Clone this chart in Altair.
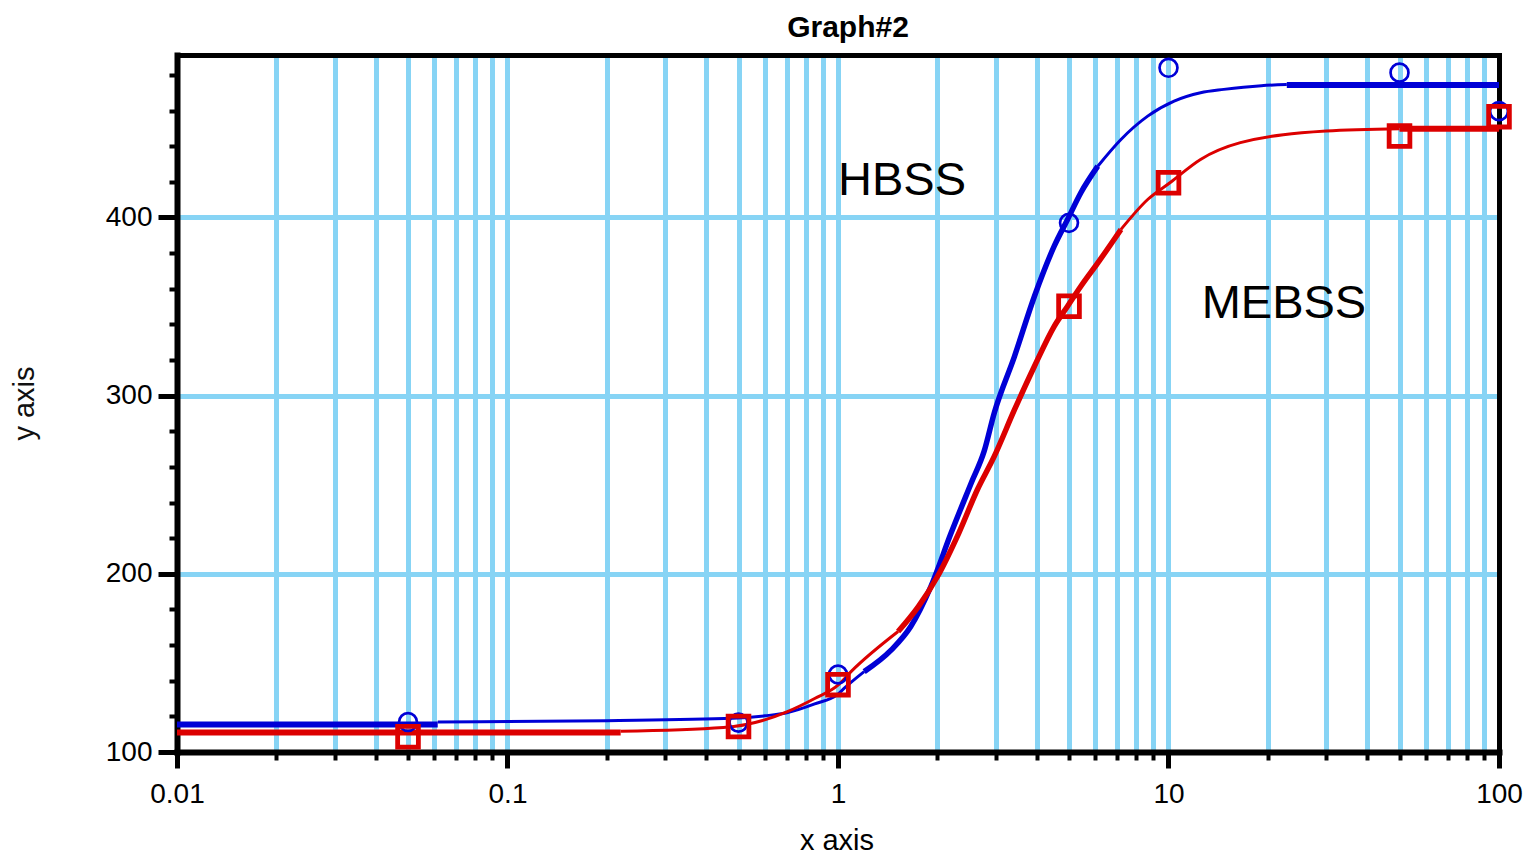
import altair as alt
import pandas as pd

FONT = "Liberation Sans"
BLUE = "#0000D6"
RED = "#DC0000"
GRID = "#87D4F5"

# ---- tick values ----
x_major = [0.01, 0.1, 1, 10, 100]
x_minor = [round(m * d, 4) for d in [0.01, 0.1, 1, 10] for m in range(2, 10)]
x_grid = [v for v in sorted(x_minor + x_major) if 0.01 < v < 100]
y_major = [100, 200, 300, 400]
y_minor = [v for v in range(120, 500, 20) if v not in y_major]
y_grid = [200, 300, 400]

# ---- measured points ----
hbss_x = [0.05, 0.5, 1, 5, 10, 50, 100]
hbss_y = [116.8, 116.5, 143.5, 397.0, 484.0, 481.3, 459.7]
mebss_x = [0.05, 0.5, 1, 5, 10, 50, 100]
mebss_y = [108.6, 114.3, 137.8, 350.2, 419.5, 445.7, 456.6]

# ---- fitted curves (in pieces) ----
hbss_fit_x = [0.01, 0.0615,
              0.0615, 0.2, 0.48, 0.6, 0.7, 0.85, 1.0, 1.045, 1.2,
              1.2, 1.45, 1.66, 1.91, 2.2, 2.53, 2.77, 2.97, 3.42, 3.93, 4.51, 4.95, 5.43, 6.11,
              6.11, 7.18, 8.65, 10.4, 12.5, 14.7, 19.1, 22.8,
              22.8, 100]
hbss_fit_y = [115.4, 115.4,
              116.8, 117.6, 118.9, 120.3, 122.0, 127.0, 132.5, 135.8, 145.1,
              145.1, 157.3, 170.4, 192.9, 223.0, 251.0, 269.0, 290.3, 322.1, 355.8, 383.9, 398.9, 413.9, 428.8,
              428.8, 443.8, 456.9, 465.3, 470.0, 471.9, 474.0, 474.6,
              474.3, 474.3]
hbss_fit_piece = [0, 0,
                  1, 1, 1, 1, 1, 1, 1, 1, 1,
                  2, 2, 2, 2, 2, 2, 2, 2, 2, 2, 2, 2, 2, 2,
                  3, 3, 3, 3, 3, 3, 3, 3,
                  4, 4]

mebss_fit_x = [0.01, 0.22,
               0.22, 0.45, 0.6, 0.7, 0.85, 1.0, 1.095, 1.52,
               1.52, 1.75, 2.0, 2.32, 2.64, 2.97, 3.42, 3.93, 4.51, 4.95, 5.43, 6.11, 7.18,
               7.18, 8.65, 10.1, 12.5, 16.5, 30, 50,
               50, 100]
mebss_fit_y = [110.9, 110.9,
               111.6, 113.7, 118.0, 122.5, 130.0, 137.5, 145.1, 167.6,
               167.6, 181.6, 198.5, 222.9, 247.2, 265.9, 292.1, 316.5, 338.9, 350.2, 361.4, 374.5, 393.3,
               393.3, 410.1, 419.5, 432.6, 442.0, 448.5, 449.8,
               449.8, 449.8]
mebss_fit_piece = [0, 0,
                   1, 1, 1, 1, 1, 1, 1, 1,
                   2, 2, 2, 2, 2, 2, 2, 2, 2, 2, 2, 2, 2,
                   3, 3, 3, 3, 3, 3, 3,
                   4, 4]

# ---- annotations ----
label_text = ["HBSS", "MEBSS"]
label_x = [1.0, 12.6]
label_y = [412.9, 343.8]

# line width used for each traced piece (style)
PIECE_WIDTH = {0: 6, 1: 3, 2: 5.5, 3: 3, 4: 6}

curve_rows = []
for name, xs, ys, ps in [("HBSS", hbss_fit_x, hbss_fit_y, hbss_fit_piece),
                         ("MEBSS", mebss_fit_x, mebss_fit_y, mebss_fit_piece)]:
    for i, (xv, yv, pv) in enumerate(zip(xs, ys, ps)):
        curve_rows.append({"series": name, "x": xv, "y": yv, "piece": pv,
                           "w": PIECE_WIDTH[pv], "i": i})
curves = pd.DataFrame(curve_rows)
hbss = pd.DataFrame({"x": hbss_x, "y": hbss_y})
mebss = pd.DataFrame({"x": mebss_x, "y": mebss_y})
labels = pd.DataFrame({"x": label_x, "y": label_y, "text": label_text})

XS = alt.Scale(type="log", domain=[0.01, 100], nice=False)
YS = alt.Scale(domain=[100, 491.2], nice=False, zero=False)

grid_x = alt.Axis(orient="bottom", values=x_grid, grid=True, gridColor=GRID, gridWidth=5,
                  gridOpacity=1, domain=False, ticks=False, labels=False)
grid_y = alt.Axis(orient="left", values=y_grid, grid=True, gridColor=GRID, gridWidth=5,
                  gridOpacity=1, domain=False, ticks=False, labels=False)
minor_x = alt.Axis(orient="bottom", values=x_minor, grid=False, domain=False, ticks=True,
                   tickSize=8, tickWidth=4, tickColor="black", labels=False)
minor_y = alt.Axis(orient="left", values=y_minor, grid=False, domain=False, ticks=True,
                   tickSize=8, tickWidth=4, tickColor="black", labels=False)
major_x = alt.Axis(orient="bottom", values=x_major, grid=False, domain=True, domainColor="black",
                   domainWidth=6, domainCap="square", ticks=True, tickSize=16, tickWidth=5,
                   tickColor="black", labels=True, labelFont=FONT, labelFontSize=28,
                   labelColor="black", labelPadding=12, labelFlush=False, labelOverlap=False,
                   format="~g", titleFont=FONT, titleFontSize=29, titleFontWeight="normal",
                   titleColor="black", titleX=659.5, titleY=97, titleBaseline="alphabetic",
                   titleAlign="center")
major_y = alt.Axis(orient="left", values=y_major, grid=False, domain=True, domainColor="black",
                   domainWidth=6, domainCap="square", ticks=True, tickSize=19, tickWidth=5,
                   tickColor="black", labels=True, labelFont=FONT, labelFontSize=28,
                   labelColor="black", labelPadding=6, format="d", titleFont=FONT,
                   titleFontSize=29, titleFontWeight="normal", titleColor="#111111",
                   titleX=-144, titleY=348, titleBaseline="alphabetic", titleAlign="center")
frame_x = alt.Axis(orient="top", domain=True, domainColor="black", domainWidth=5,
                   domainCap="square", ticks=False, labels=False, grid=False)
frame_y = alt.Axis(orient="right", domain=True, domainColor="black", domainWidth=5,
                   domainCap="square", ticks=False, labels=False, grid=False)

l_curves = alt.Chart(curves).mark_line(strokeCap="butt", strokeJoin="round",
                                       interpolate="monotone").encode(
    x=alt.X("x:Q", scale=XS, axis=grid_x, title=None),
    y=alt.Y("y:Q", scale=YS, axis=grid_y, title=None),
    color=alt.Color("series:N", scale=alt.Scale(domain=["HBSS", "MEBSS"], range=[BLUE, RED]),
                    legend=None),
    detail=["series:N", "piece:N"],
    size=alt.Size("w:Q", scale=None, legend=None),
    order=alt.Order("i:Q"),
)

l_circles = alt.Chart(hbss).mark_point(shape="circle", filled=False, stroke=BLUE,
                                       strokeWidth=2.7, size=320, opacity=1).encode(
    x=alt.X("x:Q", scale=XS, axis=minor_x, title=None),
    y=alt.Y("y:Q", scale=YS, axis=minor_y, title=None),
)

l_squares = alt.Chart(mebss).mark_point(shape="square", filled=False, stroke=RED,
                                        strokeWidth=4.8, size=430, opacity=1).encode(
    x=alt.X("x:Q", scale=XS, axis=major_x, title="x axis"),
    y=alt.Y("y:Q", scale=YS, axis=major_y, title="y axis"),
)

l_text = alt.Chart(labels).mark_text(font=FONT, fontSize=47, align="left",
                                     baseline="alphabetic", color="black").encode(
    x=alt.X("x:Q", scale=XS, axis=frame_x, title=None),
    y=alt.Y("y:Q", scale=YS, axis=frame_y, title=None),
    text="text:N",
)

chart = alt.layer(l_curves, l_circles, l_squares, l_text).resolve_axis(
    x="independent", y="independent"
).properties(
    width=1322,
    height=697,
    title=alt.TitleParams(text="Graph#2", font=FONT, fontSize=30, fontWeight="bold",
                          color="black", anchor="middle", offset=10, dx=10),
    padding={"left": 169, "top": 47, "right": 28, "bottom": 106},
    autosize=alt.AutoSizeParams(type="none"),
).configure_view(strokeWidth=0).configure(background="white")

chart.save("out.html", embed_options={"renderer": "svg", "actions": False})
